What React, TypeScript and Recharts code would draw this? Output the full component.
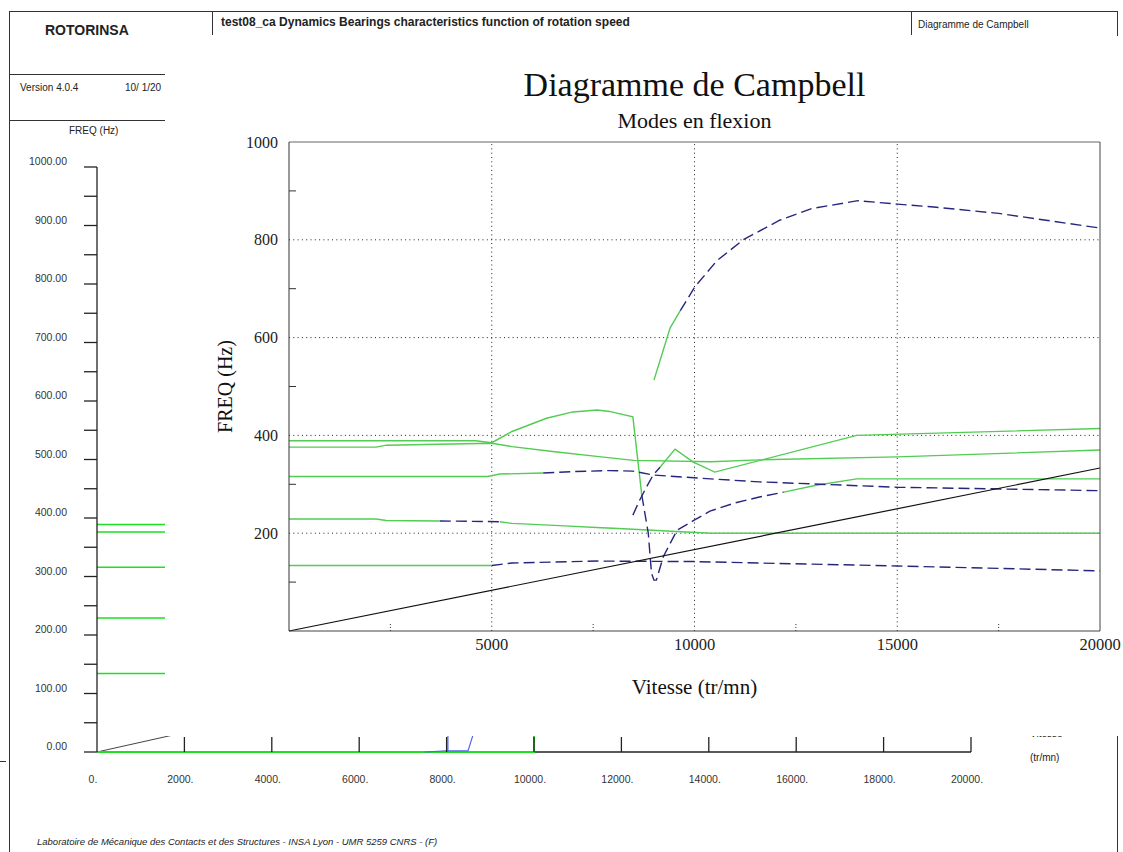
import { LineChart, Line, XAxis, YAxis, ReferenceLine } from 'recharts';

const SERIF = '"Liberation Serif", "Times New Roman", serif';
const SANS = '"Liberation Sans", Arial, sans-serif';

type Pt = { rpm: number; hz: number };
const pts = (rows: number[][]): Pt[] => rows.map(([rpm, hz]) => ({ rpm, hz }));

// 1x rotation speed line (rpm / 60)
const speedLine = pts([[0, 0], [20000, 333.3]]);

// mode tracks, split where the plot changes style (green solid / blue dashed)
const modeAGreen = pts([[0, 389], [4600, 389], [5000, 385], [5500, 408], [6350, 435], [7000, 448], [7600, 452], [7900, 449], [8480, 438], [8700, 278]]);
const modeADashed = pts([[8700, 278], [8860, 200], [8940, 118], [9000, 104], [9060, 104], [9230, 152], [9570, 206], [9960, 225], [10380, 245], [11000, 262], [11600, 274], [12200, 284]]);
const modeAGreenEnd = pts([[12200, 284], [13000, 298], [14000, 311], [20000, 311]]);

const modeBGreen = pts([[0, 376], [2150, 376], [2400, 380], [5000, 384], [5500, 377], [6500, 367], [7700, 356], [8500, 349], [10400, 346], [11600, 350], [15000, 356], [20000, 370]]);

const modeCDashed = pts([[8480, 237], [8650, 268], [8820, 295], [8980, 319], [9150, 335]]);
const modeCGreen = pts([[9150, 335], [9520, 372], [9960, 346], [10500, 325], [14000, 400], [20000, 414]]);

const modeDGreen = pts([[0, 316], [4900, 316], [5200, 321], [6270, 323]]);
const modeDDashed = pts([[6270, 323], [7000, 326], [7900, 328], [8480, 327], [8980, 319], [10400, 311], [11600, 305], [15000, 294], [20000, 287]]);

const modeEGreen = pts([[0, 229], [2150, 229], [2400, 226], [3720, 225]]);
const modeEDashed = pts([[3720, 225], [5200, 223.5]]);
const modeEGreenEnd = pts([[5200, 223.5], [5500, 220], [6800, 215], [7700, 211], [8000, 210], [10400, 200], [20000, 200]]);

const modeFGreen = pts([[0, 134], [5000, 134]]);
const modeFDashed = pts([[5000, 134], [5500, 139], [7600, 143], [10000, 142], [11600, 139], [15000, 133], [20000, 123]]);

const modeGGreen = pts([[9000, 513], [9400, 620], [9650, 655]]);
const modeGDashed = pts([[9650, 655], [10010, 704], [10550, 757], [11200, 800], [12100, 840], [12900, 864], [14030, 880], [15000, 873], [15900, 867], [17500, 854], [20000, 824]]);

// old ROTORINSA plot behind the overlay
const bgAxis = pts([[0, 0], [20000, 0]]);
const bgZeroGreen = pts([[0, 0], [10000, 0], [10000, 60]]);
const bgBlue1 = pts([[7500, 0], [7990, 2], [8030, 2], [8030, 60]]);
const bgBlue2 = pts([[8030, 2], [8490, 2], [8650, 40]]);

const mainYTicks = [100, 200, 300, 400, 500, 600, 700, 800, 900, 1000];
const mainXTicks = [2500, 5000, 7500, 10000, 12500, 15000, 17500, 20000];
const gridY = [200, 400, 600, 800];
const gridX = [5000, 10000, 15000];
const bgYTicks = Array.from({ length: 21 }, (_, i) => i * 50);
const bgXTicks = [0, 2000, 4000, 6000, 8000, 10000, 12000, 14000, 16000, 18000, 20000];

const GREEN = '#52cc52';
const NAVY = '#26267e';
const BG_GREEN = '#1ee01e';

const greenSegs = [modeAGreen, modeAGreenEnd, modeBGreen, modeCGreen, modeDGreen, modeEGreen, modeEGreenEnd, modeFGreen, modeGGreen];
const dashedSegs = [modeADashed, modeCDashed, modeDDashed, modeEDashed, modeFDashed, modeGDashed];
const bgGreenSegs = [modeAGreen, modeBGreen, modeDGreen, modeEGreen, modeFGreen];

const MainLeftTick = ({ x, y, payload }: any) => {
    const v = payload.value;
    if (v % 200 !== 0) return <line x1={x} x2={x + 7} y1={y} y2={y} stroke="#333" />;
    return (
        <text x={x - 11} y={y} dy="0.35em" textAnchor="end" fontSize={16} fill="#222" fontFamily={SERIF}>
            {v}
        </text>
    );
};

const MainRightTick = ({ x, y, payload }: any) => {
    if (payload.value % 200 === 0) return <g />;
    return <line x1={x - 7} x2={x} y1={y} y2={y} stroke="#333" />;
};

const MainXTick = ({ x, y, payload }: any) => {
    const v = payload.value;
    if (v % 5000 !== 0) return <line x1={x} x2={x} y1={y} y2={y - 8} stroke="#333" strokeDasharray="1 2" />;
    return (
        <text x={x} y={y + 19} textAnchor="middle" fontSize={16.5} fill="#222" fontFamily={SERIF}>
            {v}
        </text>
    );
};

const BgYTick = ({ x, y, payload }: any) => (
    <g>
        <line x1={x - 13} x2={x} y1={y} y2={y} stroke="#222" strokeWidth={1.3} />
        {payload.value % 100 === 0 && (
            <text x={x - 30} y={y - 2} textAnchor="end" fontSize={10.5} fill="#333" fontFamily={SANS}>
                {payload.value.toFixed(2)}
            </text>
        )}
    </g>
);

const BgXTick = ({ x, y, payload }: any) => (
    <g>
        {payload.value > 0 && <line x1={x} x2={x} y1={y} y2={y - 15} stroke="#222" strokeWidth={1.3} />}
        <text x={x - 4} y={y + 31} textAnchor="middle" fontSize={10.5} fill="#333" fontFamily={SANS}>
            {payload.value + '.'}
        </text>
    </g>
);

const abs = (left: number, top: number, extra: any = {}) => ({ position: 'absolute' as const, left, top, ...extra });
const txt = (left: number, top: number, size: number, extra: any = {}) =>
    abs(left, top, { fontFamily: SANS, fontSize: size, lineHeight: 1, whiteSpace: 'nowrap', color: '#222', ...extra });

export default function App() {
    return (
        <div style={{ position: 'absolute', left: 0, top: 0, width: 1123, height: 852, background: '#fff', overflow: 'hidden' }}>
            {/* document frame */}
            <div style={abs(9, 11, { width: 1109, height: 0, borderTop: '1.5px solid #333' })} />
            <div style={abs(9, 11, { width: 0, height: 841, borderLeft: '1.5px solid #333' })} />
            <div style={abs(1117, 11, { width: 0, height: 841, borderLeft: '1.5px solid #333' })} />
            <div style={abs(212, 11, { width: 0, height: 24, borderLeft: '1.5px solid #333' })} />
            <div style={abs(911, 11, { width: 0, height: 24, borderLeft: '1.5px solid #333' })} />
            <div style={abs(9, 74, { width: 156, height: 0, borderTop: '1.5px solid #333' })} />
            <div style={abs(9, 120, { width: 156, height: 0, borderTop: '1.5px solid #333' })} />
            <div style={abs(0, 761, { width: 6, height: 0, borderTop: '1px solid #333' })} />

            <div style={txt(45, 23, 14, { fontWeight: 'bold' })}>ROTORINSA</div>
            <div style={txt(221, 16, 12, { fontWeight: 'bold' })}>test08_ca Dynamics Bearings characteristics function of rotation speed</div>
            <div style={txt(918, 20, 10)}>Diagramme de Campbell</div>
            <div style={txt(20, 83, 10)}>Version 4.0.4</div>
            <div style={txt(125, 83, 10)}>10/ 1/20</div>
            <div style={txt(69, 126, 10)}>FREQ (Hz)</div>
            <div style={txt(1030, 729, 10)}>Vitesse</div>
            <div style={txt(1030, 753, 10)}>(tr/mn)</div>
            <div style={txt(37, 837, 9.5, { fontStyle: 'italic' })}>
                Laboratoire de Mécanique des Contacts et des Structures - INSA Lyon - UMR 5259 CNRS - (F)
            </div>

            {/* old plot */}
            <div style={abs(0, 150)}>
                <LineChart width={1000} height={650} margin={{ top: 17, right: 29, bottom: 0, left: 0 }}>
                    <XAxis dataKey="rpm" type="number" domain={[0, 20000]} ticks={bgXTicks} interval={0} height={48}
                        tick={BgXTick} tickLine={false} tickSize={0} tickMargin={0} axisLine={false} />
                    <YAxis type="number" domain={[0, 1000]} ticks={bgYTicks} interval={0} width={97}
                        tick={BgYTick} tickLine={false} tickSize={0} tickMargin={0} axisLine={{ stroke: '#222', strokeWidth: 1.3 }} />
                    <Line data={bgAxis} dataKey="hz" type="linear" stroke="#222" strokeWidth={1.3} dot={false} isAnimationActive={false} />
                    <Line data={speedLine} dataKey="hz" type="linear" stroke="#444" strokeWidth={1} dot={false} isAnimationActive={false} />
                    {bgGreenSegs.map((d, i) => (
                        <Line key={'bg' + i} data={d} dataKey="hz" type="linear" stroke={BG_GREEN} strokeWidth={1.5} dot={false} isAnimationActive={false} />
                    ))}
                    <Line data={bgZeroGreen} dataKey="hz" type="linear" stroke={BG_GREEN} strokeWidth={2} dot={false} isAnimationActive={false} />
                    <Line data={bgBlue1} dataKey="hz" type="linear" stroke="#5566ee" strokeWidth={1.2} dot={false} isAnimationActive={false} />
                    <Line data={bgBlue2} dataKey="hz" type="linear" stroke="#5566ee" strokeWidth={1.2} dot={false} isAnimationActive={false} />
                </LineChart>
            </div>

            {/* Campbell diagram overlay */}
            <div style={abs(165, 36, { width: 958, height: 700, background: '#fff' })}>
                <div style={abs(124, 32, { width: 811, textAlign: 'center', fontFamily: SERIF, fontSize: 34, lineHeight: '34px', color: '#111' })}>
                    Diagramme de Campbell
                </div>
                <div style={abs(124, 74, { width: 811, textAlign: 'center', fontFamily: SERIF, fontSize: 22, lineHeight: '22px', color: '#111' })}>
                    Modes en flexion
                </div>
                <LineChart width={958} height={700} margin={{ top: 106, right: 0, bottom: 0, left: 0 }}>
                    <XAxis dataKey="rpm" type="number" domain={[0, 20000]} ticks={mainXTicks} interval={0} height={105}
                        tick={MainXTick} tickLine={false} tickSize={0} tickMargin={0} axisLine={{ stroke: '#444' }}
                        label={{ value: 'Vitesse (tr/mn)', position: 'center', dy: 3, fontSize: 21, fill: '#111', fontFamily: SERIF }} />
                    <YAxis type="number" domain={[0, 1000]} ticks={mainYTicks} interval={0} width={124}
                        tick={MainLeftTick} tickLine={false} tickSize={0} tickMargin={0} axisLine={{ stroke: '#333' }}
                        label={{ value: 'FREQ (Hz)', position: 'center', angle: -90, dx: -2, fontSize: 20, fill: '#111', fontFamily: SERIF }} />
                    <YAxis yAxisId="r" orientation="right" type="number" domain={[0, 1000]} ticks={mainYTicks} interval={0} width={23}
                        tick={MainRightTick} tickLine={false} tickSize={0} tickMargin={0} axisLine={{ stroke: '#444' }} />
                    {gridY.map(v => (
                        <ReferenceLine key={'gy' + v} y={v} stroke="#222" strokeDasharray="1 3.3" />
                    ))}
                    {gridX.map(v => (
                        <ReferenceLine key={'gx' + v} x={v} stroke="#222" strokeDasharray="1 3.3" />
                    ))}
                    <ReferenceLine y={1000} stroke="#666" />
                    {greenSegs.map((d, i) => (
                        <Line key={'g' + i} data={d} dataKey="hz" type="linear" stroke={GREEN} strokeWidth={1.4} dot={false} isAnimationActive={false} />
                    ))}
                    {dashedSegs.map((d, i) => (
                        <Line key={'d' + i} data={d} dataKey="hz" type="linear" stroke={NAVY} strokeWidth={1.4} strokeDasharray="11 5" dot={false} isAnimationActive={false} />
                    ))}
                    <Line data={speedLine} dataKey="hz" type="linear" stroke="#111" strokeWidth={1.2} dot={false} isAnimationActive={false} />
                </LineChart>
            </div>
        </div>
    );
}
